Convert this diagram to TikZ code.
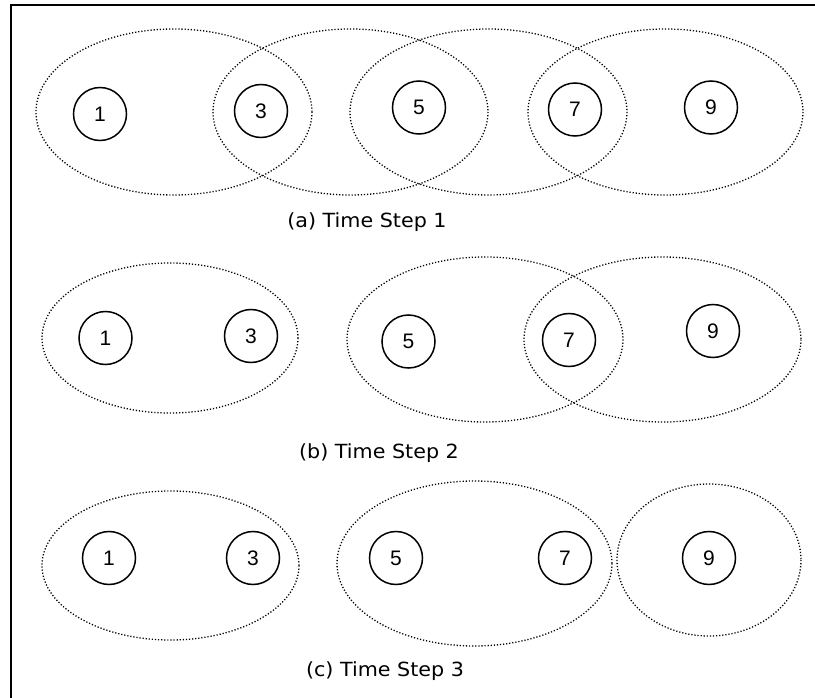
\documentclass[tikz,border=0pt]{standalone}
\usepackage{fontspec}
\newfontfamily\numfont{Liberation Sans}
\newfontfamily\capfont[FakeStretch=1.06]{DejaVu Sans}
\begin{document}
\begin{tikzpicture}[x=1pt,y=-1pt,
  proc/.style={circle,draw=black,line width=1.5pt,minimum size=53pt,inner sep=0pt,
    font=\numfont\fontsize{21}{21}\selectfont},
  group/.style={line width=1.3pt,dash pattern=on 1.2pt off 1.9pt},
  caption/.style={font=\capfont\fontsize{19.5}{20}\selectfont,inner sep=0pt},
  frame/.style={line width=1.6pt}]
\useasboundingbox (0,0) rectangle (815,698);

% outer frame (top and left sides)
\coordinate (fbl) at (11,700);
\coordinate (ftl) at (11,5);
\coordinate (ftr) at (816,5);
\draw[frame] (fbl) -- (ftl) -- (ftr);

% ---- time step 1 ----
\draw[group] (174,112) ellipse [x radius=138, y radius=83];
\draw[group] (350.5,112) ellipse [x radius=137.5, y radius=83];
\draw[group] (488.5,112) ellipse [x radius=138.5, y radius=83];
\draw[group] (665.5,112) ellipse [x radius=137.5, y radius=83];
\node[proc] (a1) at (100,114) {1};
\node[proc] (a3) at (261,111) {3};
\node[proc] (a5) at (419,107.5) {5};
\node[proc] (a7) at (575,109.5) {7};
\node[proc] (a9) at (711,107.5) {9};
\node[caption] (capa) at (367,222) {(a) Time Step 1};

% ---- time step 2 ----
\draw[group] (170,338) ellipse [x radius=128, y radius=75];
\draw[group] (485,339.5) ellipse [x radius=138, y radius=82.5];
\draw[group] (662.5,339.5) ellipse [x radius=138.5, y radius=82.5];
\node[proc] (b1) at (105.5,338) {1};
\node[proc] (b3) at (251,336) {3};
\node[proc] (b5) at (408.5,341.5) {5};
\node[proc] (b7) at (569,340) {7};
\node[proc] (b9) at (713,331) {9};
\node[caption] (capb) at (379,453) {(b) Time Step 2};

% ---- time step 3 ----
\draw[group] (170.5,565.5) ellipse [x radius=128.5, y radius=74.5];
\draw[group] (474.5,563.5) ellipse [x radius=137.5, y radius=82.5];
\draw[group] (709,560) ellipse [x radius=92, y radius=76];
\node[proc] (c1) at (109,558) {1};
\node[proc] (c3) at (253,558) {3};
\node[proc] (c5) at (396,558) {5};
\node[proc] (c7) at (565,558) {7};
\node[proc] (c9) at (709,558) {9};
\node[caption] (capc) at (385,671) {(c) Time Step 3};
\end{tikzpicture}
\end{document}
